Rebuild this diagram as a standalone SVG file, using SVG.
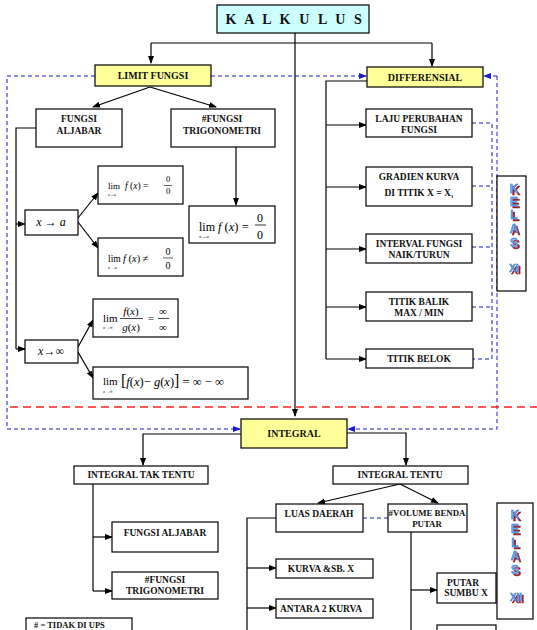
<svg xmlns="http://www.w3.org/2000/svg" width="537" height="630" viewBox="0 0 537 630">
<style>
.b{fill:#fff;stroke:#000;stroke-width:1.2}
.y{fill:#FFFF99;stroke:#000;stroke-width:1.2}
.t{font-family:"Liberation Serif",serif;font-weight:bold;font-size:9.5px;text-anchor:middle;fill:#111}
.m{font-family:"Liberation Serif",serif;font-style:italic;fill:#000}
.n{font-family:"Liberation Serif",serif;font-style:normal;fill:#000}
.c{fill:none;stroke:#000;stroke-width:1.2}
.bd{fill:none;stroke:#1a1acc;stroke-width:1;stroke-dasharray:4,3}
.rd{fill:none;stroke:#ff2020;stroke-width:1.6;stroke-dasharray:8,5}
.wa{font-family:"Liberation Sans",sans-serif;font-weight:bold;font-size:12px;text-anchor:middle;fill:#6aa8ee;stroke:#2b6cc4;stroke-width:0.4}
</style>
<defs>
<marker id="a" markerWidth="8" markerHeight="8" refX="7" refY="4" orient="auto" markerUnits="userSpaceOnUse"><path d="M0,1 L8,4 L0,7 Z" fill="#000"/></marker>
<marker id="ab" markerWidth="8" markerHeight="8" refX="7" refY="4" orient="auto" markerUnits="userSpaceOnUse"><path d="M0,1 L8,4 L0,7 Z" fill="#1a1acc"/></marker>
<filter id="sh" x="-50%" y="-50%" width="200%" height="200%"><feOffset in="SourceAlpha" dx="1.6" dy="1.6" result="o"/><feFlood flood-color="#992222"/><feComposite in2="o" operator="in" result="s"/><feMerge><feMergeNode in="s"/><feMergeNode in="SourceGraphic"/></feMerge></filter>
</defs>

<g id="connectors">
<path class="c" d="M295,22 V416" marker-end="url(#a)"/>
<path class="c" d="M151,43 H432"/>
<path class="c" d="M151,43 V63" marker-end="url(#a)"/>
<path class="c" d="M432,43 V66" marker-end="url(#a)"/>
<path class="c" d="M150,87 L93,107" marker-end="url(#a)"/>
<path class="c" d="M150,87 L216,107" marker-end="url(#a)"/>
<path class="c" d="M36,128 H16 V349"/>
<path class="c" d="M16,224 H25" marker-end="url(#a)"/>
<path class="c" d="M16,349 H25" marker-end="url(#a)"/>
<path class="c" d="M78,218 L98,193" marker-end="url(#a)"/>
<path class="c" d="M78,222 L98,248" marker-end="url(#a)"/>
<path class="c" d="M236,147 V205" marker-end="url(#a)"/>
<path class="c" d="M78,347 L93,320" marker-end="url(#a)"/>
<path class="c" d="M78,352 L93,378" marker-end="url(#a)"/>
<path class="c" d="M367,81 H326 V359"/>
<path class="c" d="M326,125 H366" marker-end="url(#a)"/>
<path class="c" d="M326,187 H366" marker-end="url(#a)"/>
<path class="c" d="M326,249 H366" marker-end="url(#a)"/>
<path class="c" d="M326,307 H366" marker-end="url(#a)"/>
<path class="c" d="M326,359 H366" marker-end="url(#a)"/>
<path class="c" d="M241,434 H143 V465" marker-end="url(#a)"/>
<path class="c" d="M347,433 H406 V465" marker-end="url(#a)"/>
<path class="c" d="M93,484 V591"/>
<path class="c" d="M93,537 H112" marker-end="url(#a)"/>
<path class="c" d="M93,591 H112" marker-end="url(#a)"/>
<path class="c" d="M400,484 L318,503" marker-end="url(#a)"/>
<path class="c" d="M400,484 L438,503" marker-end="url(#a)"/>
<path class="c" d="M276,518 H247 V630"/>
<path class="c" d="M247,568 H276" marker-end="url(#a)"/>
<path class="c" d="M247,608 H276" marker-end="url(#a)"/>
<path class="c" d="M411,532 V630"/>
<path class="c" d="M411,590 H437" marker-end="url(#a)"/>
<path class="bd" d="M95,76 H7 V429 H240" marker-end="url(#ab)"/>
<path class="bd" d="M211,76 H366" marker-end="url(#ab)"/>
<path class="bd" d="M497,76 H484" marker-end="url(#ab)"/>
<path class="bd" d="M497,76 V429 H348" marker-end="url(#ab)"/>
<path class="bd" d="M472,123 H492 V359 H473"/>
<path class="bd" d="M472,186 H492"/>
<path class="bd" d="M472,247 H492"/>
<path class="bd" d="M472,307 H492"/>
<path class="bd" d="M363,518 H388"/>
<path class="rd" d="M10,407 H537"/>
</g>

<g id="kalkulus"><rect class="b" x="217" y="5" width="152" height="28" style="fill:#CCFFFF"/><text class="t" x="295" y="24" style="font-size:14px;letter-spacing:2.6px">K A L K U L U S</text></g>
<g id="limit"><rect class="y" x="95" y="65" width="116" height="21"/><text class="t" x="153" y="79" style="font-size:10px">LIMIT FUNGSI</text></g>
<g id="diff"><rect class="y" x="367" y="67" width="116" height="20"/><text class="t" x="425" y="81" style="font-size:10px">DIFFERENSIAL</text></g>
<g id="fungsi-aljabar"><rect class="b" x="36" y="109" width="86" height="38"/><text class="t" x="79" y="122">FUNGSI</text><text class="t" x="79" y="134">ALJABAR</text></g>
<g id="fungsi-trigo"><rect class="b" x="171" y="109" width="104" height="38"/><text class="t" x="222" y="122">#FUNGSI</text><text class="t" x="222" y="134">TRIGONOMETRI</text></g>

<g id="x-to-a"><rect class="b" x="25" y="210" width="53" height="25"/><text class="m" x="51" y="226" text-anchor="middle" font-size="12">x <tspan class="n">→</tspan> a</text></g>
<g id="lim1"><rect class="b" x="98" y="166" width="85" height="38"/>
<text class="n" x="108" y="189" font-size="9">lim</text><text class="m" x="108" y="196" font-size="4">x→a</text>
<text class="m" x="125" y="189" font-size="9.5">f <tspan class="n">(</tspan>x<tspan class="n">) =</tspan></text>
<text class="n" x="168" y="182" font-size="8.5" text-anchor="middle">0</text><path d="M164,185.5 H172" stroke="#000" stroke-width="0.6"/><text class="n" x="168" y="194" font-size="8.5" text-anchor="middle">0</text></g>
<g id="lim2"><rect class="b" x="98" y="238" width="85" height="38"/>
<text class="n" x="108" y="262" font-size="9.5">lim</text><text class="m" x="108" y="269" font-size="4.5">x→a</text>
<text class="m" x="123" y="262" font-size="10.5">f <tspan class="n">(</tspan>x<tspan class="n">) ≠</tspan></text>
<text class="n" x="168" y="255" font-size="10" text-anchor="middle">0</text><path d="M163,258 H173" stroke="#000" stroke-width="0.6"/><text class="n" x="168" y="269" font-size="10" text-anchor="middle">0</text></g>
<g id="lim3"><rect class="b" x="189" y="206" width="86" height="37"/>
<text class="n" x="199" y="231" font-size="12">lim</text><text class="m" x="199" y="238" font-size="5">x→a</text>
<text class="m" x="218" y="231" font-size="12.5">f <tspan class="n">(</tspan>x<tspan class="n">) =</tspan></text>
<text class="n" x="260" y="222" font-size="12" text-anchor="middle">0</text><path d="M255,225 H266" stroke="#000" stroke-width="0.8"/><text class="n" x="260" y="239" font-size="12" text-anchor="middle">0</text></g>
<g id="x-to-inf"><rect class="b" x="25" y="340" width="53" height="23"/><text class="m" x="51" y="355" text-anchor="middle" font-size="12">x<tspan class="n">→∞</tspan></text></g>
<g id="lim4"><rect class="b" x="93" y="299" width="85" height="38"/>
<text class="n" x="103" y="322" font-size="11">lim</text><text class="m" x="103" y="329" font-size="4.5">x→∞</text>
<text class="m" x="131" y="315" font-size="11" text-anchor="middle">f<tspan class="n">(</tspan>x<tspan class="n">)</tspan></text><path d="M120,318.5 H143" stroke="#000" stroke-width="0.7"/>
<text class="m" x="131" y="331" font-size="11" text-anchor="middle">g<tspan class="n">(</tspan>x<tspan class="n">)</tspan></text>
<text class="n" x="151" y="322" font-size="11" text-anchor="middle">=</text>
<text class="n" x="163" y="315" font-size="11" text-anchor="middle">∞</text><path d="M158,318.5 H169" stroke="#000" stroke-width="0.7"/><text class="n" x="163" y="331" font-size="11" text-anchor="middle">∞</text></g>
<g id="lim5"><rect class="b" x="93" y="367" width="155" height="32"/>
<text class="n" x="103" y="385" font-size="11">lim</text><text class="m" x="103" y="393" font-size="4.5">x→∞</text>
<text class="m" x="121" y="386" font-size="12.5"><tspan class="n" font-size="16">[</tspan>f<tspan class="n">(</tspan>x<tspan class="n">)− </tspan>g<tspan class="n">(</tspan>x<tspan class="n">)</tspan><tspan class="n" font-size="16">]</tspan><tspan class="n"> = ∞ − ∞</tspan></text></g>

<g id="laju"><rect class="b" x="366" y="109" width="106" height="28"/><text class="t" x="419" y="122">LAJU PERUBAHAN</text><text class="t" x="419" y="133">FUNGSI</text></g>
<g id="gradien"><rect class="b" x="366" y="167" width="106" height="39"/><text class="t" x="419" y="180">GRADIEN KURVA</text><text class="t" x="419" y="196">DI TITIK  X = X<tspan font-size="5" dy="2">1</tspan></text></g>
<g id="interval"><rect class="b" x="366" y="234" width="106" height="29"/><text class="t" x="419" y="247">INTERVAL FUNGSI</text><text class="t" x="419" y="258">NAIK/TURUN</text></g>
<g id="titik-balik"><rect class="b" x="366" y="292" width="106" height="29"/><text class="t" x="419" y="305">TITIK BALIK</text><text class="t" x="419" y="316">MAX / MIN</text></g>
<g id="titik-belok"><rect class="b" x="366" y="349" width="107" height="19"/><text class="t" x="419" y="362">TITIK BELOK</text></g>

<g id="kelas-xi"><rect class="b" x="497" y="176" width="29" height="115"/>
<g class="wa" filter="url(#sh)"><text x="514" y="193">K</text><text x="514" y="206">E</text><text x="514" y="219">L</text><text x="514" y="233">A</text><text x="514" y="247">S</text><text x="514" y="272" style="font-size:10px">XI</text></g></g>

<g id="integral"><rect class="y" x="241" y="419" width="106" height="29"/><text class="t" x="294" y="437" style="font-size:10px">INTEGRAL</text></g>
<g id="integral-tak-tentu"><rect class="b" x="74" y="466" width="134" height="18"/><text class="t" x="141" y="478">INTEGRAL TAK TENTU</text></g>
<g id="integral-tentu"><rect class="b" x="333" y="466" width="135" height="18"/><text class="t" x="400" y="478">INTEGRAL TENTU</text></g>
<g id="itt-aljabar"><rect class="b" x="112" y="522" width="106" height="30"/><text class="t" x="165" y="536">FUNGSI ALJABAR</text></g>
<g id="itt-trigo"><rect class="b" x="112" y="572" width="106" height="27"/><text class="t" x="165" y="583">#FUNGSI</text><text class="t" x="165" y="594">TRIGONOMETRI</text></g>
<g id="luas"><rect class="b" x="276" y="504" width="87" height="28"/><text class="t" x="319" y="517">LUAS DAERAH</text></g>
<g id="volume"><rect class="b" x="388" y="504" width="79" height="28"/><text class="t" x="427" y="516" style="font-size:8.8px">#VOLUME BENDA</text><text class="t" x="427" y="527" style="font-size:8.8px">PUTAR</text></g>
<g id="kurva-sb"><rect class="b" x="276" y="559" width="97" height="19"/><text class="t" x="321" y="572">KURVA &amp;SB. X</text></g>
<g id="antara"><rect class="b" x="276" y="599" width="97" height="19"/><text class="t" x="321" y="612">ANTARA  2 KURVA</text></g>
<g id="putar-x"><rect class="b" x="437" y="573" width="59" height="30"/><text class="t" x="463" y="586">PUTAR</text><text class="t" x="466" y="596">SUMBU X</text></g>
<g id="putar-y"><rect class="b" x="437" y="625" width="59" height="20"/></g>
<g id="kelas-xii"><rect class="b" x="497" y="503" width="36" height="116"/>
<g class="wa" filter="url(#sh)"><text x="515" y="519">K</text><text x="515" y="533">E</text><text x="515" y="547">L</text><text x="515" y="560">A</text><text x="515" y="574">S</text><text x="516" y="601" style="font-size:10px">XII</text></g></g>
<g id="legend"><rect class="b" x="26" y="618" width="106" height="20"/><text class="t" x="34" y="628" style="text-anchor:start;font-size:8.5px">#  = TIDAK DI UPS</text></g>
</svg>
